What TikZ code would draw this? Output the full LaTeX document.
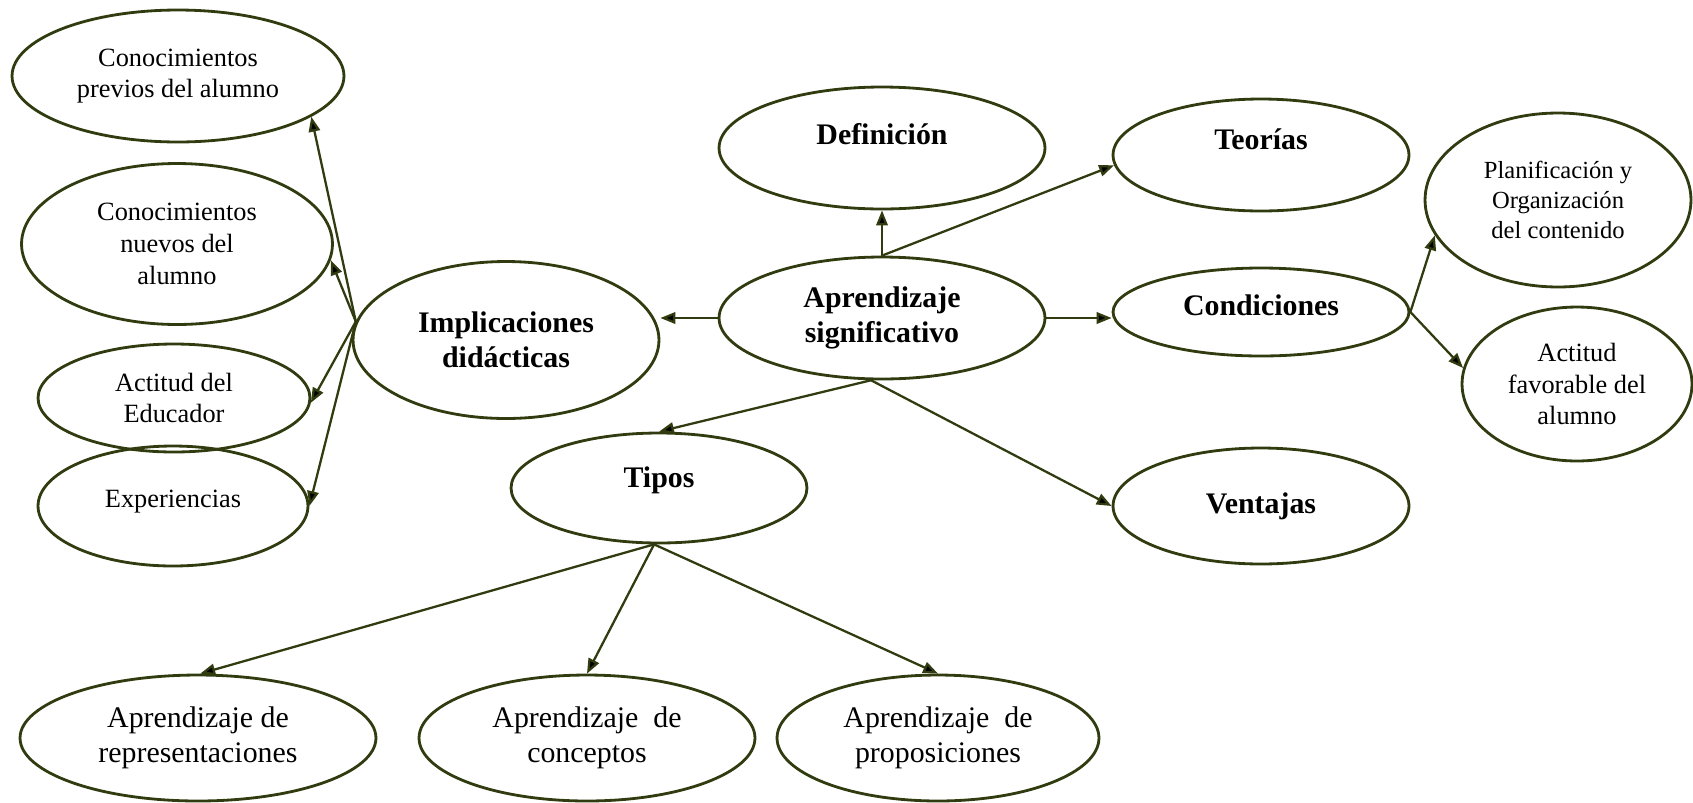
\documentclass[tikz,border=0pt]{standalone}
\usepackage{fontspec}
\setmainfont{Liberation Serif}
\usepackage{xcolor}
\usepackage{tikz}
\usetikzlibrary{arrows.meta,shapes.geometric}
\definecolor{rim}{RGB}{48,60,16}

\begin{document}
\begin{tikzpicture}[x=0.02cm, y=-0.02cm,
    idea/.style={ellipse, draw=rim, line width=1.6pt, inner sep=0pt, align=center},
    mainidea/.style={idea, font=\fontsize{17}{20}\selectfont\bfseries},
    subidea/.style={idea, font=\fontsize{15}{18}\selectfont},
    leafidea/.style={idea, font=\fontsize{17}{20}\selectfont},
    link/.style={draw=rim, line width=1.3pt, -{Triangle[length=8.5pt, width=6.5pt, fill=black]}}]
    \useasboundingbox (0,0) rectangle (1693,802);

    % centre
    \node[mainidea, minimum width=6.52cm, minimum height=2.44cm] (aprsig) at (882, 318) {Aprendizaje\\significativo};
    \node[mainidea, minimum width=6.52cm, minimum height=2.44cm, text height=12pt, text depth=15.6pt] (defin) at (882, 148) {Definición};
    \node[mainidea, minimum width=5.92cm, minimum height=2.24cm, text height=12pt, text depth=17.8pt] (teor) at (1261, 155) {Teorías};
    \node[mainidea, minimum width=5.92cm, minimum height=1.76cm, text height=12pt, text depth=8pt] (cond) at (1261, 312) {Condiciones};
    \node[mainidea, minimum width=5.92cm, minimum height=2.32cm] (vent) at (1261, 506) {Ventajas};
    \node[mainidea, minimum width=6.12cm, minimum height=3.14cm] (impl) at (506, 340) {Implicaciones\\didácticas};
    \node[mainidea, minimum width=5.92cm, minimum height=2.2cm, text height=12pt, text depth=12.2pt] (tipos) at (659, 488) {Tipos};

    % implicaciones (left)
    \node[subidea, minimum width=6.64cm, minimum height=2.64cm] (conprev) at (178, 76) {Conocimientos\\previos del alumno};
    \node[subidea, minimum width=6.22cm, minimum height=3.22cm] (connuevo) at (177, 244) {Conocimientos\\nuevos del\\alumno};
    \node[subidea, minimum width=5.44cm, minimum height=2.16cm] (educ) at (174, 398) {Actitud del\\Educador};
    \node[subidea, minimum width=5.4cm, minimum height=2.4cm, text height=11pt, text depth=9pt] (exper) at (173, 506) {Experiencias};

    % condiciones (right)
    \node[subidea, font=\fontsize{14}{17}\selectfont, minimum width=5.32cm, minimum height=3.48cm] (plan) at (1558, 200) {Planificación y\\Organización\\del contenido};
    \node[subidea, minimum width=4.6cm, minimum height=3.08cm] (actfav) at (1577, 384) {Actitud\\favorable del\\alumno};

    % tipos (bottom)
    \node[leafidea, minimum width=7.12cm, minimum height=2.52cm] (rep) at (198, 738) {Aprendizaje de\\representaciones};
    \node[leafidea, minimum width=6.72cm, minimum height=2.52cm] (conc) at (587, 738) {Aprendizaje\ \ de\\conceptos};
    \node[leafidea, minimum width=6.44cm, minimum height=2.52cm] (prop) at (938, 738) {Aprendizaje\ \ de\\proposiciones};

    % arrows
    \draw[link] (aprsig.north) -- (defin.south);
    \draw[link] (aprsig.north) -- (teor.184);
    \draw[link] (aprsig.east) -- (aprsig.east -| cond.west);
    \draw[link] (aprsig.west) -- (impl.east |- aprsig.west);
    \draw[link] (aprsig.-100) -- (tipos.north);
    \draw[link] (aprsig.-100) -- (vent.west);

    \draw[link] (cond.east) -- (plan.196);
    \draw[link] (cond.east) -- (actfav.172);

    \draw[link] (impl.173) -- (conprev.-17);
    \draw[link] (impl.173) -- (connuevo.-6);
    \draw[link] (impl.173) -- (educ.-2);
    \draw[link] (impl.173) -- (exper.east);

    \draw[link] (tipos.-95) -- (rep.88);
    \draw[link] (tipos.-95) -- (conc.north);
    \draw[link] (tipos.-95) -- (prop.north);
\end{tikzpicture}
\end{document}
